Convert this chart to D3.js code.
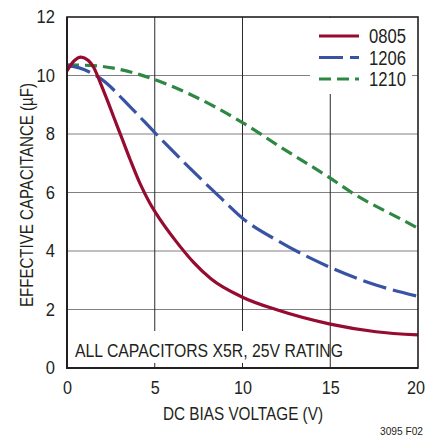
<!DOCTYPE html>
<html><head><meta charset="utf-8">
<script src="https://cdn.jsdelivr.net/npm/d3@7"></script>
<style>
html,body{margin:0;padding:0;background:#fff;}
svg text{font-family:"Liberation Sans",Arial,sans-serif;fill:#231f20;}
</style></head>
<body>
<svg id="c" width="427" height="438"></svg>
<script>
const xTicks = [0, 5, 10, 15, 20];
const yTicks = [0, 2, 4, 6, 8, 10, 12];
const seriesNames = ["0805", "1206", "1210"];
const vRed = [0, 0.4, 0.8, 1.2, 1.5, 1.9, 2.3, 2.65, 3.1, 3.6, 4.15, 4.7, 5.3, 6.15, 7.2, 8.2, 10, 12, 15, 17.6, 20];
const cRed = [10.16, 10.5, 10.63, 10.52, 10.3, 9.75, 9.15, 8.6, 7.9, 7.12, 6.32, 5.66, 5.08, 4.38, 3.62, 3.05, 2.42, 1.98, 1.5, 1.24, 1.13];
const vBlue = [0, 0.7, 1.9, 3.6, 5.0, 7.0, 8.7, 10, 12.1, 15, 17.6, 20];
const cBlue = [10.34, 10.26, 9.9, 8.93, 8.05, 6.83, 5.85, 5.12, 4.32, 3.44, 2.84, 2.45];
const vGreen = [0, 1.5, 2.65, 5, 7.0, 10, 12.1, 15, 16.3, 19, 20];
const cGreen = [10.36, 10.34, 10.25, 9.86, 9.36, 8.39, 7.58, 6.49, 5.97, 5.1, 4.78];

const series = [
  {name: seriesNames[0], v: vRed, c: cRed, color: "#960b30", dash: null},
  {name: seriesNames[1], v: vBlue, c: cBlue, color: "#3953a4", dash: "24,7"},
  {name: seriesNames[2], v: vGreen, c: cGreen, color: "#2e8843", dash: "12,6"}
];

const L = 67, R = 418, T = 17, B = 368;
const svg = d3.select("#c");
const x = d3.scaleLinear().domain([0, 20]).range([L, R]);
const y = d3.scaleLinear().domain([0, 12]).range([B, T]);

function squeeze(sel, w) {
  sel.attr("textLength", w).attr("lengthAdjust", "spacingAndGlyphs");
  return sel;
}

// horizontal grid
svg.append("g").selectAll("line").data(yTicks.filter(d => d > 0 && d < 12)).join("line")
  .attr("x1", L).attr("x2", R).attr("y1", d => y(d)).attr("y2", d => y(d))
  .attr("stroke", "#808080").attr("stroke-width", 1.2);
// vertical grid
svg.append("g").selectAll("line").data(xTicks.filter(d => d > 0 && d < 20)).join("line")
  .attr("x1", d => x(d)).attr("x2", d => x(d)).attr("y1", T).attr("y2", B)
  .attr("stroke", "#2a2a2a").attr("stroke-width", 1);

// white boxes behind note and legend
svg.append("rect").attr("x", L + 2).attr("y", 331).attr("width", 250).attr("height", 32).attr("fill", "#fff");
svg.append("rect").attr("x", 310).attr("y", T + 1).attr("width", 102).attr("height", 76).attr("fill", "#fff");

// curves
const line = d3.line().x(d => x(d[0])).y(d => y(d[1])).curve(d3.curveMonotoneX);
series.slice().reverse().forEach(s => {
  svg.append("path").datum(s.v.map((v, i) => [v, s.c[i]]))
    .attr("d", line).attr("fill", "none").attr("stroke", s.color)
    .attr("stroke-width", 3.2).attr("stroke-dasharray", s.dash);
});

// frame
svg.append("rect").attr("x", L).attr("y", T).attr("width", R - L).attr("height", B - T)
  .attr("fill", "none").attr("stroke", "#231f20").attr("stroke-width", 1.6);
svg.append("line").attr("x1", L).attr("x2", L).attr("y1", T).attr("y2", B + 1).attr("stroke", "#231f20").attr("stroke-width", 2);
svg.append("line").attr("x1", L - 1).attr("x2", R).attr("y1", B).attr("y2", B).attr("stroke", "#231f20").attr("stroke-width", 2);

// axes labels using d3 axes
const fmt = d3.format("d");
const xAxis = d3.axisBottom(x).tickValues(xTicks).tickSize(0).tickPadding(13).tickFormat(fmt);
const gx = svg.append("g").attr("transform", `translate(0,${B})`).call(xAxis);
gx.select(".domain").remove();
gx.selectAll("text").attr("font-size", 18).style("font-family", null)
  .attr("dx", d => d === 20 ? -2.5 : 0)
  .each(function(d) { squeeze(d3.select(this), fmt(d).length * 9); });

const yAxis = d3.axisLeft(y).tickValues(yTicks).tickSize(0).tickPadding(12).tickFormat(fmt);
const gy = svg.append("g").attr("transform", `translate(${L},0)`).call(yAxis);
gy.select(".domain").remove();
gy.selectAll("text").attr("font-size", 18).style("font-family", null)
  .each(function(d) { squeeze(d3.select(this), fmt(d).length * 9.2); });

// titles
squeeze(svg.append("text").attr("x", 243).attr("y", 420).attr("text-anchor", "middle")
  .attr("font-size", 18).text("DC BIAS VOLTAGE (V)"), 160);
squeeze(svg.append("text").attr("transform", "translate(33,195) rotate(-90)").attr("text-anchor", "middle")
  .attr("font-size", 18).text("EFFECTIVE CAPACITANCE (µF)"), 224);
squeeze(svg.append("text").attr("x", 75).attr("y", 357).attr("font-size", 18)
  .text("ALL CAPACITORS X5R, 25V RATING"), 268);
squeeze(svg.append("text").attr("x", 423).attr("y", 435).attr("text-anchor", "end").attr("font-size", 11)
  .text("3095 F02"), 43);

// legend
const lg = svg.append("g");
series.forEach((s, i) => {
  const ly = 36 + i * 21.5;
  lg.append("line").attr("x1", 319).attr("x2", 359).attr("y1", ly).attr("y2", ly)
    .attr("stroke", s.color).attr("stroke-width", 3.2).attr("stroke-dasharray", s.dash);
  squeeze(lg.append("text").attr("x", 369).attr("y", ly + 7).attr("font-size", 19.5).text(s.name), 37);
});
</script>
</body></html>
